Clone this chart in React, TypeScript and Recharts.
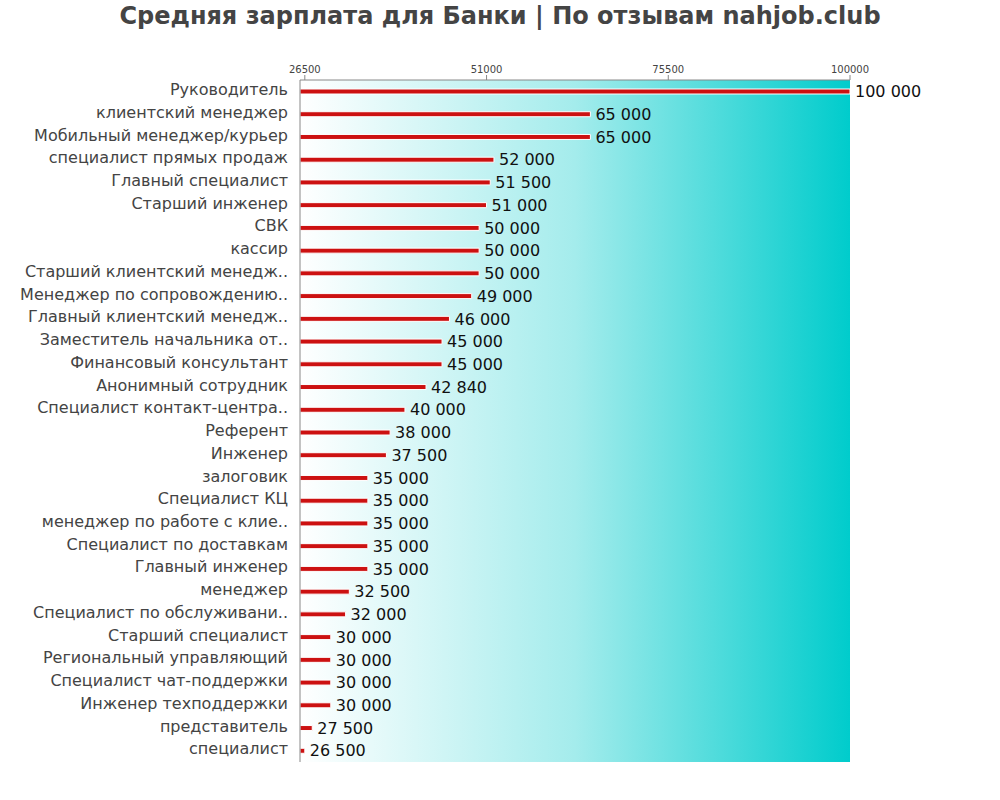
import { BarChart, Bar, XAxis, YAxis, ReferenceArea, LabelList } from "recharts";

const positions = [
  "Руководитель",
  "клиентский менеджер",
  "Мобильный менеджер/курьер",
  "специалист прямых продаж",
  "Главный специалист",
  "Старший инженер",
  "СВК",
  "кассир",
  "Старший клиентский менедж..",
  "Менеджер по сопровождению..",
  "Главный клиентский менедж..",
  "Заместитель начальника от..",
  "Финансовый консультант",
  "Анонимный сотрудник",
  "Специалист контакт-центра..",
  "Референт",
  "Инженер",
  "залоговик",
  "Специалист КЦ",
  "менеджер по работе с клие..",
  "Специалист по доставкам",
  "Главный инженер",
  "менеджер",
  "Специалист по обслуживани..",
  "Старший специалист",
  "Региональный управляющий",
  "Специалист чат-поддержки",
  "Инженер техподдержки",
  "представитель",
  "специалист",
];

const salaries = [
  100000, 65000, 65000, 52000, 51500, 51000, 50000, 50000, 50000, 49000,
  46000, 45000, 45000, 42840, 40000, 38000, 37500, 35000, 35000, 35000,
  35000, 35000, 32500, 32000, 30000, 30000, 30000, 30000, 27500, 26500,
];

const axisTicks = [26500, 51000, 75500, 100000];
const domainMin = 25850;
const domainMax = 100000;

const data = positions.map((name, i) => ({ name, salary: salaries[i] }));

const fmt = (v: any) => String(v).replace(/\B(?=(\d{3})+(?!\d))/g, " ");

export default function App() {
  return (
    <div style={{ position: "absolute", left: 0, top: 0, width: 1000, height: 800, fontFamily: "DejaVu Sans", background: "#fff" }}>
      <div
        style={{
          position: "absolute",
          top: 2,
          left: 0,
          width: 1000,
          textAlign: "center",
          fontSize: 24,
          fontWeight: "bold",
          color: "#444",
        }}
      >
        Средняя зарплата для Банки | По отзывам nahjob.club
      </div>
      <BarChart
        width={1000}
        height={800}
        data={data}
        layout="vertical"
        margin={{ top: 50, right: 150, bottom: 38, left: 10 }}
        barCategoryGap={0}
      >
        <defs>
          <linearGradient id="bg" x1="0" y1="0" x2="1" y2="0">
            <stop offset="0%" stopColor="#ffffff" />
            <stop offset="50%" stopColor="#a4ecec" />
            <stop offset="100%" stopColor="#00cccc" />
          </linearGradient>
        </defs>
        <XAxis
          type="number"
          orientation="top"
          domain={[domainMin, domainMax]}
          ticks={axisTicks}
          height={30}
          tick={{ fontSize: 10, fill: "#444" }}
          tickSize={5}
          stroke="#888"
          allowDataOverflow
        />
        <YAxis
          type="category"
          dataKey="name"
          width={290}
          tick={{ fontSize: 16, fill: "#444", dy: -2 }}
          tickLine={false}
          tickMargin={6}
          stroke="#888"
          interval={0}
        />
        <ReferenceArea x1={domainMin} x2={domainMax} fill="url(#bg)" fillOpacity={1} stroke="none" ifOverflow="hidden" />
        <Bar dataKey="salary" fill="#cc1111" stroke="#ffffff" strokeWidth={1} barSize={5} isAnimationActive={false}>
          <LabelList dataKey="salary" position="right" offset={5} formatter={fmt} fill="#111" fontSize={16} />
        </Bar>
      </BarChart>
    </div>
  );
}
